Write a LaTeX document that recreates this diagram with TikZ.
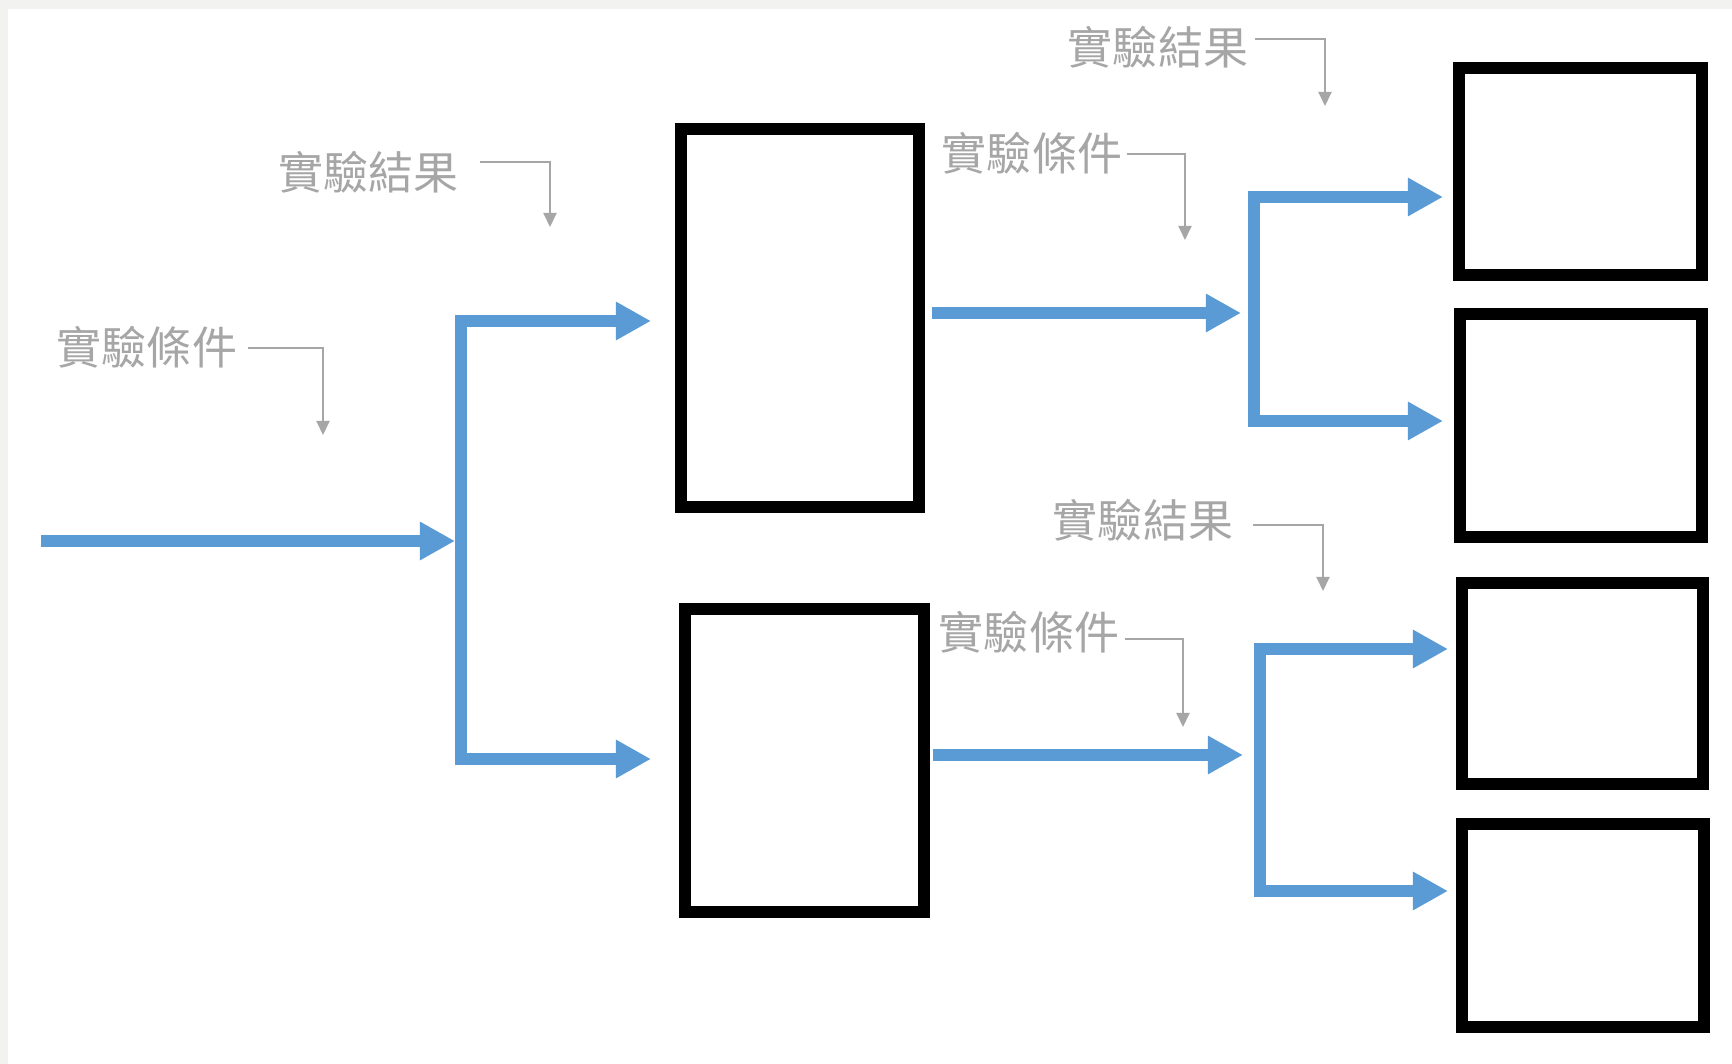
\documentclass[tikz,border=0pt]{standalone}
\usepackage{fontspec}
\usepackage{xcolor}
\usepackage{tikz}
\usetikzlibrary{arrows.meta,positioning}
\newfontfamily\cjk{Noto Sans CJK TC}
\definecolor{flowblue}{HTML}{5B9BD5}
\definecolor{notegray}{HTML}{A6A6A6}
\definecolor{stripgray}{HTML}{F2F2F0}

\begin{document}
\begin{tikzpicture}[
    x=0.01cm, y=-0.01cm,
    box/.style={rectangle, draw, line width=0.12cm, inner sep=0pt},
    flow/.style={-{Triangle[length=0.35cm, width=0.36cm]}, draw=flowblue, line width=0.12cm},
    note/.style={-{Triangle[length=0.14cm, width=0.13cm]}, draw=notegray, line width=0.02cm},
    lbl/.style={text=notegray, inner sep=0pt, font=\cjk\fontsize{12.8pt}{15pt}\selectfont}
]
    % background
    \fill[stripgray] (0,0) rectangle (1732,1064);
    \fill[white] (8,9) rectangle (1732,1064);
    \useasboundingbox (0,0) rectangle (1732,1064);

    % boxes
    \node[box, minimum width=2.38cm, minimum height=3.78cm] (stageA) at (800,318) {};
    \node[box, minimum width=2.39cm, minimum height=3.03cm] (stageB) at (804.5,760.5) {};
    \node[box, minimum width=2.43cm, minimum height=2.07cm] (leafA) at (1580.5,171.5) {};
    \node[box, minimum width=2.42cm, minimum height=2.23cm] (leafB) at (1581,425.5) {};
    \node[box, minimum width=2.41cm, minimum height=2.01cm] (leafC) at (1582.5,683.5) {};
    \node[box, minimum width=2.42cm, minimum height=2.03cm] (leafD) at (1583,925.5) {};

    % branch points and arrow ends
    \coordinate (src) at (41,541);
    \coordinate (inA) at (455,541);
    \coordinate (forkA) at (461,541);
    \coordinate (toA) at (651,321);
    \coordinate (toB) at (651,759);
    \coordinate (outA) at (932,313);
    \coordinate (inB) at (1241,313);
    \coordinate (forkB) at (1254,313);
    \coordinate (toLeafA) at (1443,197);
    \coordinate (toLeafB) at (1443,421);
    \coordinate (outB) at (933,755);
    \coordinate (inC) at (1243,755);
    \coordinate (forkC) at (1260,755);
    \coordinate (toLeafC) at (1448,649);
    \coordinate (toLeafD) at (1448,891);

    \draw[flow] (src) -- (inA);
    \draw[flow] (forkA) |- (toA);
    \draw[flow] (forkA) |- (toB);
    \draw[flow] (outA) -- (inB);
    \draw[flow] (forkB) |- (toLeafA);
    \draw[flow] (forkB) |- (toLeafB);
    \draw[flow] (outB) -- (inC);
    \draw[flow] (forkC) |- (toLeafC);
    \draw[flow] (forkC) |- (toLeafD);

    % gray notes
    \node[lbl] (condA) at (147,347) {實驗條件};
    \node[lbl] (resA) at (368.5,172) {實驗結果};
    \node[lbl] (resB) at (1158,47) {實驗結果};
    \node[lbl] (condB) at (1032,153) {實驗條件};
    \node[lbl] (resC) at (1143,520) {實驗結果};
    \node[lbl] (condC) at (1029,632) {實驗條件};

    \coordinate (condA-s) at (248,348);
    \coordinate (condA-t) at (323,435);
    \coordinate (resA-s) at (480,162);
    \coordinate (resA-t) at (550,227);
    \coordinate (resB-s) at (1255,39);
    \coordinate (resB-t) at (1325,106);
    \coordinate (condB-s) at (1127,154);
    \coordinate (condB-t) at (1185,240);
    \coordinate (resC-s) at (1253,525);
    \coordinate (resC-t) at (1323,591);
    \coordinate (condC-s) at (1125,639);
    \coordinate (condC-t) at (1183,727);

    \foreach \n in {condA,resA,resB,condB,resC,condC}
        \draw[note] (\n-s) -| (\n-t);
\end{tikzpicture}
\end{document}
